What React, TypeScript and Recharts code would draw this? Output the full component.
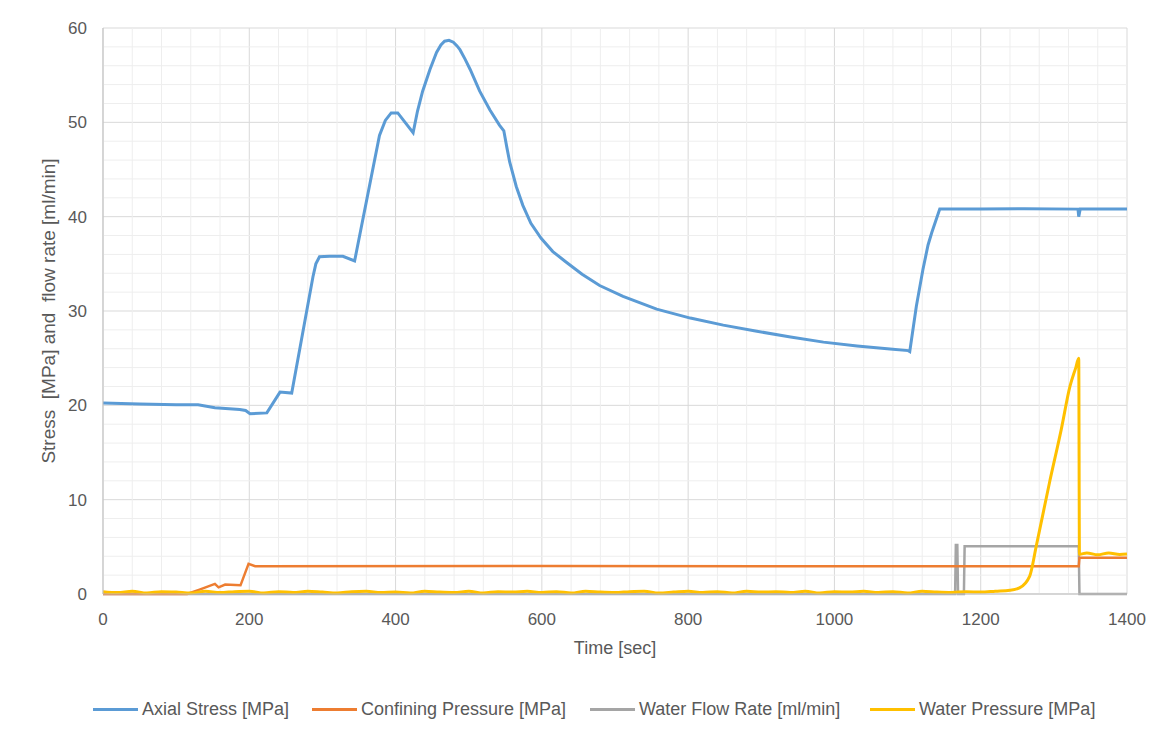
import { LineChart, Line, XAxis, YAxis, CartesianGrid, ReferenceLine, Label } from "recharts";

// Axial stress [MPa]
const axialT = [0, 50, 100, 130, 153, 187, 195, 201, 224, 242, 258, 287, 291, 296, 310, 328, 344, 378, 386, 394, 403, 424, 430, 437, 447, 456, 462, 467, 473, 479, 484, 488, 495, 502, 515, 529, 542, 548, 552, 556, 565, 574, 585, 599, 615, 633, 655, 679, 711, 757, 803, 848, 894, 940, 985, 1031, 1076, 1101, 1103, 1112, 1121, 1128, 1133, 1144, 1200, 1260, 1333, 1334, 1336, 1400];
const axialV = [20.25, 20.15, 20.05, 20.05, 19.75, 19.55, 19.45, 19.1, 19.2, 21.4, 21.3, 33.6, 35.0, 35.75, 35.8, 35.8, 35.3, 48.6, 50.2, 51.0, 51.0, 48.9, 51.2, 53.3, 55.6, 57.4, 58.2, 58.6, 58.7, 58.5, 58.1, 57.7, 56.7, 55.6, 53.3, 51.3, 49.7, 49.1, 47.4, 45.8, 43.2, 41.2, 39.3, 37.7, 36.3, 35.2, 33.9, 32.7, 31.56, 30.2, 29.25, 28.5, 27.85, 27.25, 26.7, 26.3, 25.98, 25.8, 25.7, 30.5, 34.4, 37.0, 38.3, 40.8, 40.8, 40.85, 40.8, 40.0, 40.8, 40.8];

// Confining pressure [MPa]
const confT = [0, 115, 132, 153, 158, 167, 188, 199, 208, 600, 1000, 1334, 1335, 1400];
const confV = [0, 0, 0.47, 1.07, 0.71, 1.0, 0.92, 3.2, 2.95, 2.97, 2.95, 2.95, 3.85, 3.85];

// Water flow rate [ml/min]
const flowT = [0, 1165, 1166, 1168, 1169, 1177, 1178, 1334, 1335, 1400];
const flowV = [0, 0, 5.2, 5.2, 0, 0, 5.05, 5.05, 0, 0];

// Water pressure [MPa]
const wpT = [0, 20, 40, 60, 80, 100, 120, 140, 160, 180, 200, 220, 240, 260, 280, 300, 320, 340, 360, 380, 400, 420, 440, 460, 480, 500, 520, 540, 560, 580, 600, 620, 640, 660, 680, 700, 720, 740, 760, 780, 800, 820, 840, 860, 880, 900, 920, 940, 960, 980, 1000, 1020, 1040, 1060, 1080, 1100, 1120, 1140, 1160, 1180, 1200, 1220, 1240, 1253, 1267, 1276, 1294, 1310, 1322, 1330, 1334, 1335, 1345, 1360, 1375, 1390, 1400];
const wpV = [0.25, 0.15, 0.3, 0.1, 0.25, 0.2, 0.1, 0.3, 0.15, 0.25, 0.3, 0.1, 0.25, 0.15, 0.3, 0.2, 0.1, 0.25, 0.3, 0.15, 0.2, 0.1, 0.3, 0.2, 0.15, 0.3, 0.1, 0.25, 0.2, 0.3, 0.15, 0.25, 0.1, 0.3, 0.2, 0.15, 0.25, 0.3, 0.1, 0.2, 0.3, 0.15, 0.25, 0.1, 0.3, 0.2, 0.25, 0.15, 0.3, 0.1, 0.25, 0.2, 0.3, 0.15, 0.25, 0.1, 0.3, 0.2, 0.15, 0.25, 0.2, 0.3, 0.4, 0.65, 1.9, 5.1, 11.8, 17.4, 22.0, 24.0, 25.0, 4.2, 4.35, 4.15, 4.35, 4.2, 4.25];

const xTicks = [0, 200, 400, 600, 800, 1000, 1200, 1400];
const yTicks = [0, 10, 20, 30, 40, 50, 60];
const xMinor = [40, 80, 120, 160, 240, 280, 320, 360, 440, 480, 520, 560, 640, 680, 720, 760, 840, 880, 920, 960, 1040, 1080, 1120, 1160, 1240, 1280, 1320, 1360];
const yMinor = [2, 4, 6, 8, 12, 14, 16, 18, 22, 24, 26, 28, 32, 34, 36, 38, 42, 44, 46, 48, 52, 54, 56, 58];

const legendItems = [
  { name: "Axial Stress [MPa]", color: "#5B9BD5", left: 93 },
  { name: "Confining Pressure [MPa]", color: "#ED7D31", left: 312 },
  { name: "Water Flow Rate [ml/min]", color: "#A5A5A5", left: 590 },
  { name: "Water Pressure [MPa]", color: "#FFC000", left: 870 },
];

const zip = (ts: number[], vs: number[]) => ts.map((t, i) => ({ t, v: vs[i] }));

const FONT = "'Liberation Sans', Arial, sans-serif";
const TEXT = "#595959";
const NB = "\u00a0";

export default function App() {
  const axial = zip(axialT, axialV);
  const conf = zip(confT, confV);
  const flow = zip(flowT, flowV);
  const wp = zip(wpT, wpV);

  return (
    <div style={{ position: "relative", width: 1164, height: 735, margin: -8, background: "#fff", fontFamily: FONT }}>
      <LineChart width={1164} height={735} margin={{ top: 28, left: 43, right: 37, bottom: 73 }}>
        <CartesianGrid stroke="#d9d9d9" strokeWidth={1} />
        {xMinor.map((x) => (
          <ReferenceLine key={"x" + x} x={x} stroke="#eeeeee" strokeWidth={1} />
        ))}
        {yMinor.map((y) => (
          <ReferenceLine key={"y" + y} y={y} stroke="#eeeeee" strokeWidth={1} />
        ))}
        <XAxis
          dataKey="t"
          type="number"
          domain={[0, 1400]}
          ticks={xTicks}
          allowDuplicatedCategory={false}
          axisLine={{ stroke: "#bfbfbf" }}
          tickLine={false}
          tickSize={15}
          tickMargin={4}
          height={68}
          tick={{ fontSize: 17, fill: TEXT, fontFamily: FONT }}
        >
          <Label value="Time [sec]" position="insideBottom" offset={8} style={{ fontSize: 18, fill: TEXT, fontFamily: FONT }} />
        </XAxis>
        <YAxis
          type="number"
          domain={[0, 60]}
          ticks={yTicks}
          axisLine={{ stroke: "#bfbfbf" }}
          tickLine={false}
          tickSize={14}
          tickMargin={2}
          width={60}
          tick={{ fontSize: 17, fill: TEXT, fontFamily: FONT }}
        >
          <Label
            value={`Stress${NB}${NB}[MPa]${NB}and${NB}${NB}flow${NB}rate${NB}[ml/min]`}
            angle={-90}
            position="insideLeft"
            offset={5}
            style={{ textAnchor: "middle", fontSize: 19, fill: TEXT, fontFamily: FONT }}
          />
        </YAxis>
        <Line data={flow} dataKey="v" type="linear" stroke="#A5A5A5" strokeWidth={2.5} dot={false} isAnimationActive={false} />
        <Line data={conf} dataKey="v" type="linear" stroke="#ED7D31" strokeWidth={2.5} dot={false} isAnimationActive={false} />
        <Line data={axial} dataKey="v" type="linear" stroke="#5B9BD5" strokeWidth={3} dot={false} isAnimationActive={false} />
        <Line data={wp} dataKey="v" type="monotone" stroke="#FFC000" strokeWidth={3} dot={false} isAnimationActive={false} />
      </LineChart>
      {legendItems.map((it) => (
        <div
          key={it.name}
          style={{ position: "absolute", left: it.left, top: 699, display: "flex", alignItems: "center", fontSize: 18, color: TEXT, whiteSpace: "nowrap" }}
        >
          <span style={{ display: "inline-block", width: 45, height: 3, background: it.color, marginRight: 4 }} />
          {it.name}
        </div>
      ))}
      <div style={{ position: "absolute", left: 1, top: 1, width: 1158, height: 731, border: "1px solid #d9d9d9", pointerEvents: "none" }} />
    </div>
  );
}
